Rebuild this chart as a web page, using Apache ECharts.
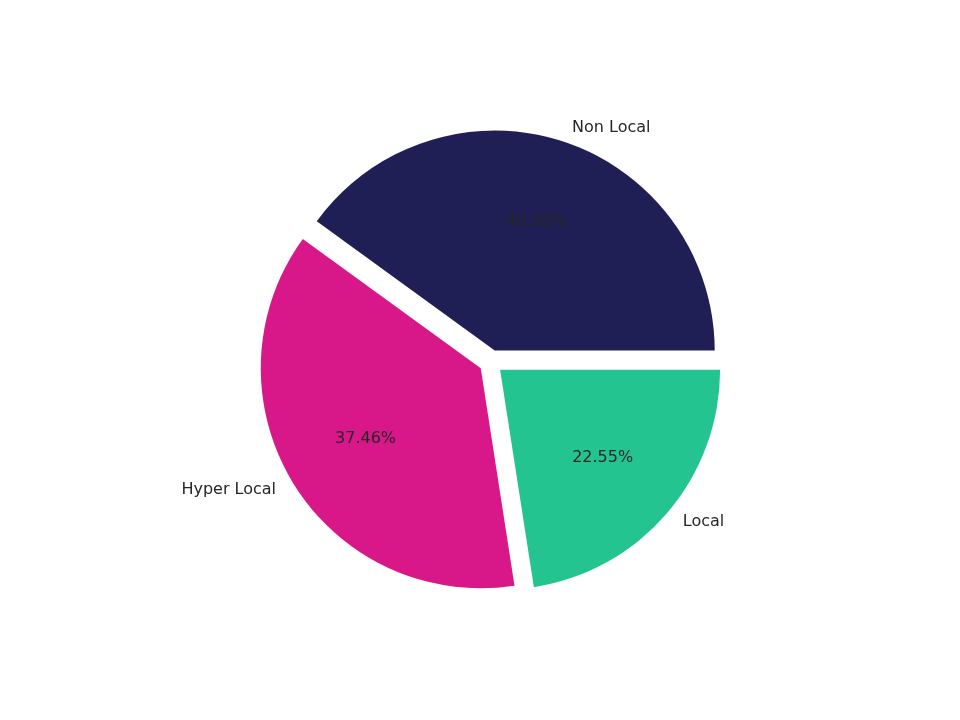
<!DOCTYPE html>
<html><head><meta charset="utf-8">
<script src="https://cdn.jsdelivr.net/npm/echarts@6/dist/echarts.min.js"></script>
<style>html,body{margin:0;padding:0;background:#fff}#c{width:960px;height:720px}</style>
</head><body><div id="c"></div>
<script>
const categories = ['Non Local', 'Hyper Local', 'Local'];
const values = [40.00, 37.46, 22.55];
const colors = ['#1f1f55', '#d81889', '#24c491'];
const pct = ['40.00%', '37.46%', '22.55%'];

const chart = echarts.init(document.getElementById('c'));
const mk = () => categories.map((n, i) => ({name: n, value: values[i], selected: true, itemStyle: {color: colors[i]}}));
const common = {
  type: 'pie', center: [491, 362], startAngle: 0, clockwise: false,
  selectedMode: 'multiple', selectedOffset: 12, animation: false, emphasis: {disabled: true}
};
chart.setOption({
  series: [
    Object.assign({}, common, {
      radius: [0, 220], data: mk(),
      label: {show: true, position: 'outside', fontFamily: 'DejaVu Sans', fontSize: 16, color: '#262626'},
      labelLine: {show: false, length: 14, length2: 0}
    }),
    Object.assign({}, common, {
      radius: [44, 220], silent: true,
      data: mk().map((d, i) => Object.assign(d, {itemStyle: {color: 'rgba(0,0,0,0)'}, label: {formatter: pct[i]}})),
      label: {show: true, position: 'inside', fontFamily: 'DejaVu Sans', fontSize: 16, color: '#262626'},
      labelLine: {show: false}
    })
  ]
});
</script></body></html>
